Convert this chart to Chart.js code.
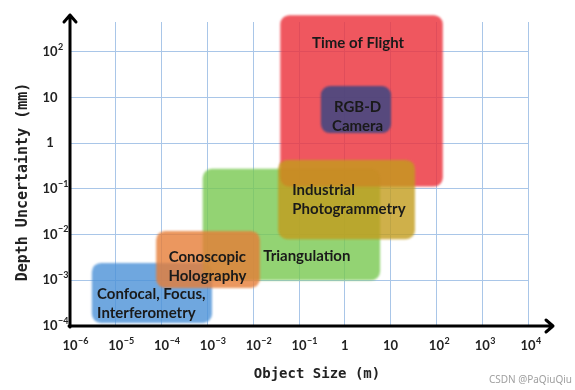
<!DOCTYPE html>
<html>
<head>
<meta charset="utf-8">
<script src="https://cdn.jsdelivr.net/npm/chart.js@4"></script>
<style>
  html, body { margin: 0; padding: 0; background: #fff; }
  #wrap { width: 575px; height: 390px; }
</style>
</head>
<body>
<div id="wrap"><canvas id="chart" width="575" height="390"></canvas></div>
<script>
// decades shown on each axis (powers of ten)
const xDecades = [-6, -5, -4, -3, -2, -1, 0, 1, 2, 3, 4];
const yDecades = [-4, -3, -2, -1, 0, 1, 2];

// measurement techniques and their ranges (object size in m, depth uncertainty in mm)
const techniques = ["Confocal, Focus, Interferometry", "Triangulation", "Conoscopic Holography",
                    "Time of Flight", "RGB-D Camera", "Industrial Photogrammetry"];
const sizeMin = [3.0e-6, 7.9e-4, 7.6e-5, 0.039, 0.30, 0.035];
const sizeMax = [1.26e-3, 5.9, 0.014, 138, 10.2, 34];
const uncMin  = [1.17e-4, 1.0e-3, 6.8e-4, 0.112, 1.66, 7.9e-3];
const uncMax  = [2.4e-3, 0.275, 0.012, 630, 17.8, 0.43];

// label text lines and anchor points (data coords)
const labelLines = [["Confocal, Focus,", "Interferometry"], ["Triangulation"], ["Conoscopic", "Holography"],
                    ["Time of Flight"], ["RGB-D", "Camera"], ["Industrial", "Photogrammetry"]];
const labelX = [3.9e-6, 0.148, 1.0e-3, 1.95, 1.9, 0.071];
const labelY = [3.1e-4, 3.4e-3, 1.95e-3, 155, 3.8, 0.059];
const labelAlign = ["left", "center", "center", "center", "center", "left"];

const boxColors = [
  "rgba(75,145,215,0.8)",
  "rgba(120,200,80,0.8)",
  "rgba(230,125,55,0.8)",
  "rgba(235,50,60,0.82)",
  "rgba(60,70,130,0.85)",
  "rgba(195,156,29,0.8)"
];

const gridColor = "#a9c6e8";

// draws "10" with a raised exponent, base centred on (x, y)
function drawDecade(ctx, v, x, y) {
  const e = Math.round(Math.log10(v));
  const base = e === 0 ? "1" : "10";
  ctx.font = "bold 13px Lato";
  ctx.textAlign = "center";
  ctx.textBaseline = "middle";
  ctx.fillText(base, x, y);
  if (e !== 0 && e !== 1) {
    const w = ctx.measureText(base).width;
    ctx.font = "bold 9px Lato";
    ctx.textAlign = "left";
    ctx.fillText(String(e).replace("-", "\u2212"), x + w / 2 + 0.5, y - 5);
  }
}

// rounded soft boxes, placed from the dataset points
const boxPlugin = {
  id: "boxes",
  afterDatasetsDraw(chart) {
    const ctx = chart.ctx;
    ctx.save();
    ctx.filter = "blur(1px)";
    chart.data.datasets.forEach((ds, i) => {
      const pts = chart.getDatasetMeta(i).data;
      const x0 = Math.min(pts[0].x, pts[1].x), x1 = Math.max(pts[0].x, pts[1].x);
      const y0 = Math.min(pts[0].y, pts[1].y), y1 = Math.max(pts[0].y, pts[1].y);
      ctx.fillStyle = ds.backgroundColor;
      ctx.beginPath();
      ctx.roundRect(x0, y0, x1 - x0, y1 - y0, 9);
      ctx.fill();
    });
    ctx.restore();

    // labels
    const xs = chart.scales.x, ys = chart.scales.y;
    ctx.save();
    ctx.fillStyle = "#1a1a1a";
    ctx.font = "bold 15px Lato";
    ctx.textBaseline = "middle";
    labelLines.forEach((lines, i) => {
      const px = xs.getPixelForValue(labelX[i]);
      const py = ys.getPixelForValue(labelY[i]);
      ctx.textAlign = labelAlign[i];
      const lh = 19;
      lines.forEach((t, k) => {
        ctx.fillText(t, px, py + (k - (lines.length - 1) / 2) * lh);
      });
    });
    ctx.restore();
  },
  afterDraw(chart) {
    const ctx = chart.ctx;
    const a = chart.chartArea;
    const xs = chart.scales.x, ys = chart.scales.y;
    const ox = a.left, oy = a.bottom;

    // tick labels
    ctx.save();
    ctx.fillStyle = "#222";
    xs.ticks.forEach((t, i) => drawDecade(ctx, t.value, xs.getPixelForTick(i), oy + 20));
    ys.ticks.forEach((t, i) => drawDecade(ctx, t.value, ox - 20, ys.getPixelForTick(i)));
    ctx.restore();

    ctx.save();
    ctx.strokeStyle = "#000";
    ctx.lineWidth = 3;
    ctx.lineCap = "round";
    ctx.lineJoin = "round";
    // x axis
    const xe = a.right + 25;
    ctx.beginPath();
    ctx.moveTo(ox - 1, oy);
    ctx.lineTo(xe, oy);
    ctx.moveTo(xe - 7, oy - 6);
    ctx.lineTo(xe, oy);
    ctx.lineTo(xe - 7, oy + 6);
    ctx.stroke();
    // y axis
    const ye = 15;
    ctx.beginPath();
    ctx.moveTo(ox, oy + 1);
    ctx.lineTo(ox, ye);
    ctx.moveTo(ox - 6, ye + 7);
    ctx.lineTo(ox, ye);
    ctx.lineTo(ox + 6, ye + 7);
    ctx.stroke();

    // axis titles
    ctx.fillStyle = "#222";
    ctx.font = "bold 14px 'DejaVu Sans Mono'";
    ctx.textAlign = "center";
    ctx.textBaseline = "middle";
    ctx.fillText("Object Size (m)", 317, 374);
    ctx.translate(23, 182);
    ctx.rotate(-Math.PI / 2);
    ctx.font = "bold 15px 'DejaVu Sans Mono'";
    ctx.fillText("Depth Uncertainty (mm)", 0, 0);
    ctx.restore();

    ctx.save();
    ctx.fillStyle = "#a0a0a0";
    ctx.font = "10px 'Noto Sans'";
    ctx.textAlign = "right";
    ctx.textBaseline = "middle";
    ctx.fillText("CSDN @PaQiuQiu", 572, 380);
    ctx.restore();
  }
};

new Chart(document.getElementById("chart"), {
  type: "scatter",
  data: {
    datasets: techniques.map((t, i) => ({
      label: t,
      data: [{ x: sizeMin[i], y: uncMin[i] }, { x: sizeMax[i], y: uncMax[i] }],
      backgroundColor: boxColors[i],
      pointRadius: 0,
      pointHoverRadius: 0,
      showLine: false
    }))
  },
  options: {
    responsive: false,
    animation: false,
    layout: { padding: { top: 22, right: 47, left: 0, bottom: 0 } },
    plugins: {
      legend: { display: false },
      tooltip: { enabled: false }
    },
    scales: {
      x: {
        type: "logarithmic",
        min: 1e-6,
        max: 1e4,
        afterBuildTicks: s => { s.ticks = xDecades.map(e => ({ value: Math.pow(10, e) })); },
        afterFit: s => { s.height = 64; },
        grid: { color: gridColor, lineWidth: 1, drawTicks: false },
        border: { display: false },
        ticks: { display: false }
      },
      y: {
        type: "logarithmic",
        min: 1e-4,
        max: 447,
        afterBuildTicks: s => { s.ticks = yDecades.map(e => ({ value: Math.pow(10, e) })); },
        afterFit: s => { s.width = 70; },
        grid: { color: gridColor, lineWidth: 1, drawTicks: false },
        border: { display: false },
        ticks: { display: false }
      }
    }
  },
  plugins: [boxPlugin]
});
</script>
</body>
</html>
